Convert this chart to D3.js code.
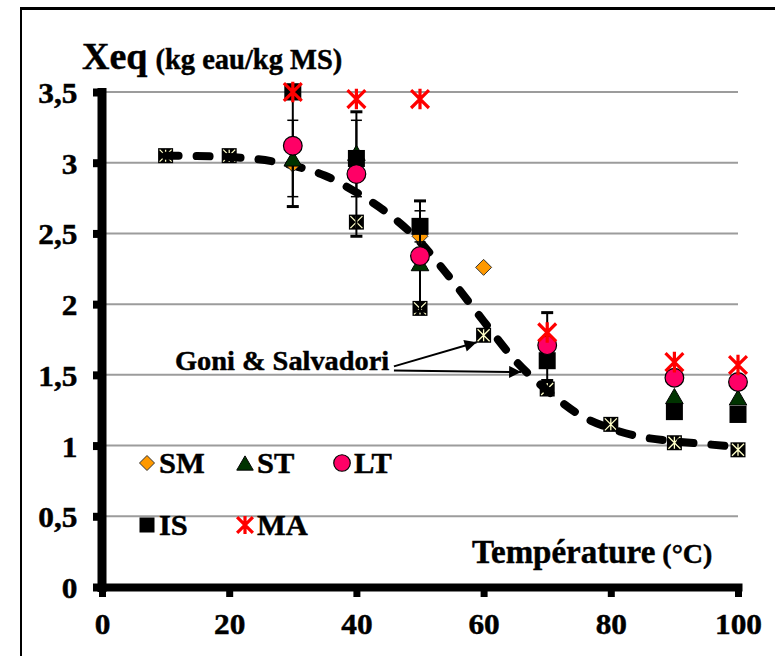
<!DOCTYPE html>
<html>
<head>
<meta charset="utf-8">
<script src="https://cdn.jsdelivr.net/npm/d3@7"></script>
<style>
  body { margin: 0; background: #fff; }
  svg { display: block; }
  text { font-family: "Liberation Serif", "Times New Roman", serif; font-weight: bold; fill: #000;
         stroke: #000; stroke-width: 0.45px; }
</style>
</head>
<body>
<svg id="chart" width="775" height="656"></svg>
<script>
// ---- data ----
const xTicks = [0, 20, 40, 60, 80, 100];
const yTicks = [0, 0.5, 1, 1.5, 2, 2.5, 3, 3.5];

// [température °C, Xeq]
const smPoints = [[30, 2.99], [50, 2.48], [60, 2.26]];
const stPoints = [[30, 3.03], [40, 3.07], [50, 2.29], [70, 1.75], [90, 1.35], [100, 1.34]];
const isPoints = [[30, 3.50], [40, 3.03], [50, 2.55], [70, 1.60], [90, 1.24], [100, 1.22]];
const ltPoints = [[30, 3.12], [40, 2.92], [50, 2.34], [70, 1.71], [90, 1.48], [100, 1.45]];
const maPoints = [[30, 3.50], [40, 3.45], [50, 3.45], [70, 1.80], [90, 1.59], [100, 1.57]];

// Goni & Salvadori: measured points and fitted curve
const goniPoints = [[10, 3.05], [20, 3.05], [40, 2.58], [50, 1.97], [60, 1.78], [70, 1.40], [80, 1.15], [90, 1.02], [100, 0.97]];
const goniCurve = [[10, 3.05], [20, 3.04], [30, 2.98], [35, 2.91], [40, 2.79], [45, 2.64], [50, 2.44], [55, 2.17],
                   [60, 1.88], [65, 1.60], [70, 1.39], [75, 1.22], [80, 1.12], [85, 1.06], [90, 1.03], [95, 1.01], [100, 0.99]];

// error bars: [température, centre, ±écart]
const ltErrors = [[30, 3.12, 0.43], [40, 2.92, 0.44], [50, 2.34, 0.39], [70, 1.70, 0.24]];
const innerErrors = [[30, 3.03, 0.27], [40, 3.03, 0.27], [50, 2.55, 0.11]];

const legendRow1 = ["SM", "ST", "LT"];
const legendRow2 = ["IS", "MA"];

// ---- layout ----
const svg = d3.select("#chart");
const x = d3.scaleLinear().domain([0, 100]).range([102, 738]);
const y = d3.scaleLinear().domain([0, 3.5]).range([587, 92]);
const fmt = d => String(d).replace(".", ",");
const stretch = 1.08;   // slightly widened lettering

// outer frame (only top and left edges fall inside the page)
svg.append("line").attr("x1", 21).attr("x2", 775).attr("y1", 8.5).attr("y2", 8.5)
  .attr("stroke", "#000").attr("stroke-width", 3);
svg.append("line").attr("x1", 21).attr("x2", 21).attr("y1", 7).attr("y2", 656)
  .attr("stroke", "#000").attr("stroke-width", 2);

// gridlines
svg.append("g").selectAll("line").data(yTicks.filter(d => d > 0)).join("line")
  .attr("x1", x(0)).attr("x2", x(100))
  .attr("y1", d => y(d)).attr("y2", d => y(d))
  .attr("stroke", "#9c9c9c").attr("stroke-width", 2);

// axes
const yAxis = svg.append("g").attr("transform", "translate(101.5,0)")
  .call(d3.axisLeft(y).tickValues(yTicks).tickFormat(fmt).tickSizeOuter(0).tickSizeInner(8.5));
yAxis.select(".domain").attr("stroke-width", 9).attr("stroke-linecap", "square");
yAxis.selectAll(".tick line").attr("stroke-width", 8);
yAxis.selectAll(".tick text").attr("x", -24 / stretch).attr("dy", "0.36em")
  .attr("transform", `scale(${stretch},1)`)
  .style("font-size", "29px").style("font-family", "'Liberation Serif', serif").style("font-weight", "bold");

const xAxis = svg.append("g").attr("transform", "translate(0,587)")
  .call(d3.axisBottom(x).tickValues(xTicks).tickFormat(fmt).tickSizeOuter(0).tickSizeInner(10));
xAxis.select(".domain").attr("stroke-width", 8).attr("stroke-linecap", "square");
xAxis.selectAll(".tick line").attr("stroke-width", 7);
xAxis.selectAll(".tick text").attr("y", 47).attr("dy", 0)
  .attr("transform", `scale(${stretch},1)`)
  .style("font-size", "29px").style("font-family", "'Liberation Serif', serif").style("font-weight", "bold");
svg.selectAll(".domain, .tick line").attr("stroke", "#000");

// ---- marker shapes ----
function drawMarker(g, type, cx, cy, s) {
  if (type === "SM") {
    const h = s;
    g.append("path").attr("d", `M${cx},${cy - h}L${cx + h},${cy}L${cx},${cy + h}L${cx - h},${cy}Z`)
      .attr("fill", "#FF9900").attr("stroke", "#333").attr("stroke-width", 1);
  } else if (type === "ST") {
    const w = s * 1.1, h = s * 0.95;
    g.append("path").attr("d", `M${cx},${cy - h}L${cx + w},${cy + h}L${cx - w},${cy + h}Z`)
      .attr("fill", "#003300").attr("stroke", "#000").attr("stroke-width", 1);
  } else if (type === "LT") {
    g.append("circle").attr("cx", cx).attr("cy", cy).attr("r", s * 1.1)
      .attr("fill", "#FF0066").attr("stroke", "#000").attr("stroke-width", 1.2);
  } else if (type === "IS") {
    g.append("rect").attr("x", cx - s).attr("y", cy - s).attr("width", 2 * s).attr("height", 2 * s)
      .attr("fill", "#000");
  } else if (type === "MA") {
    const a = s * 1.05;
    g.append("path").attr("d", `M${cx - a},${cy - a}L${cx + a},${cy + a}M${cx + a},${cy - a}L${cx - a},${cy + a}M${cx},${cy - a * 1.15}L${cx},${cy + a * 1.15}`)
      .attr("stroke", "#FF0000").attr("stroke-width", 3.2).attr("fill", "none");
  } else if (type === "GS") {
    g.append("rect").attr("x", cx - s).attr("y", cy - s).attr("width", 2 * s).attr("height", 2 * s)
      .attr("fill", "#000");
    const a = s - 1.5;
    g.append("path").attr("d", `M${cx - a},${cy - a}L${cx + a},${cy + a}M${cx + a},${cy - a}L${cx - a},${cy + a}M${cx},${cy - a}L${cx},${cy + a}`)
      .attr("stroke", "#FFFFC8").attr("stroke-width", 1.3);
  }
}

function drawSeries(points, type, s) {
  const g = svg.append("g").attr("class", "series-" + type);
  points.forEach(([t, v]) => drawMarker(g, type, x(t), y(v), s));
}

function drawErrors(rows, capW, capStroke) {
  const g = svg.append("g");
  rows.forEach(([t, c, e]) => {
    const cx = x(t);
    g.append("line").attr("x1", cx).attr("x2", cx).attr("y1", y(c + e)).attr("y2", y(c - e))
      .attr("stroke", "#000").attr("stroke-width", 2);
    [c + e, c - e].forEach(v => {
      g.append("line").attr("x1", cx - capW / 2).attr("x2", cx + capW / 2)
        .attr("y1", y(v)).attr("y2", y(v))
        .attr("stroke", "#000").attr("stroke-width", capStroke);
    });
  });
}

// Goni & Salvadori points, then the fitted dashed curve
drawSeries(goniPoints, "GS", 7.5);
svg.append("path").datum(goniCurve)
  .attr("d", d3.line().x(d => x(d[0])).y(d => y(d[1])).curve(d3.curveMonotoneX))
  .attr("fill", "none").attr("stroke", "#000").attr("stroke-width", 8)
  .attr("stroke-dasharray", "13,18").attr("stroke-linecap", "round");

drawSeries(smPoints, "SM", 8);
drawErrors(innerErrors, 11, 1.5);
drawErrors(ltErrors, 12, 3);
drawSeries(stPoints, "ST", 8);
drawSeries(isPoints, "IS", 8.5);
drawSeries(ltPoints, "LT", 8.5);
drawSeries(maPoints, "MA", 8.5);

// ---- titles ----
const yTitle = svg.append("text").attr("x", 82).attr("y", 69);
yTitle.append("tspan").style("font-size", "38px").text("Xeq");
yTitle.append("tspan").style("font-size", "28.5px").attr("dx", 8).text("(kg eau/kg MS)");

const xTitle = svg.append("text").attr("x", 472).attr("y", 563);
xTitle.append("tspan").style("font-size", "33px").text("Température");
xTitle.append("tspan").style("font-size", "28px").attr("dx", 7).text("(°C)");

// ---- legend ----
const legend = svg.append("g");
const legendCols = [147, 245, 342];
[[legendRow1, 463], [legendRow2, 525]].forEach(([names, ly]) => {
  names.forEach((name, i) => {
    const lx = legendCols[i];
    drawMarker(legend, name, lx, ly, 7.5);
    legend.append("text").attr("transform", `translate(${lx + 12},${ly + 10}) scale(1.05,1)`)
      .style("font-size", "29px").text(name);
  });
});

// ---- annotation ----
const defs = svg.append("defs");
defs.append("marker").attr("id", "arrowHead").attr("viewBox", "0 0 10 10")
  .attr("refX", 10).attr("refY", 5).attr("markerWidth", 7).attr("markerHeight", 6)
  .attr("markerUnits", "strokeWidth").attr("orient", "auto")
  .append("path").attr("d", "M0,0L10,5L0,10Z").attr("fill", "#000");

const annoStart = [[45.9, 1.56], [45.9, 1.53]];
const annoEnd = [[58.9, 1.73], [65.9, 1.52]];
svg.append("text").attr("transform", `translate(175,370) scale(1.05,1)`)
  .style("font-size", "27px").text("Goni & Salvadori");
annoEnd.forEach((end, i) => {
  svg.append("line")
    .attr("x1", x(annoStart[i][0])).attr("y1", y(annoStart[i][1]))
    .attr("x2", x(end[0])).attr("y2", y(end[1]))
    .attr("stroke", "#000").attr("stroke-width", 2).attr("marker-end", "url(#arrowHead)");
});
</script>
</body>
</html>
